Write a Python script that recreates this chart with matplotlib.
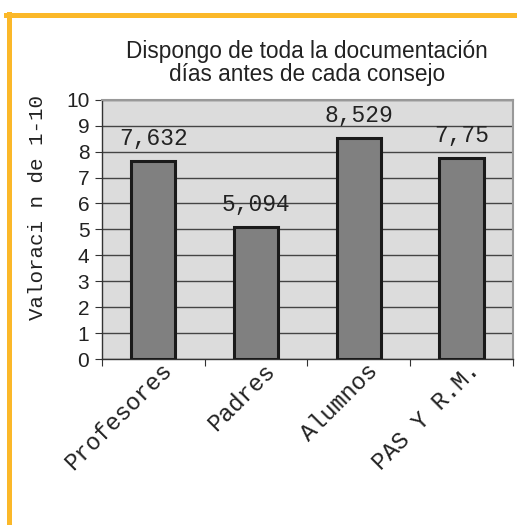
import matplotlib
matplotlib.use("Agg")
import matplotlib.pyplot as plt
import matplotlib.transforms as mtransforms
from matplotlib.lines import Line2D

categorias = ["Profesores", "Padres", "Alumnos", "PAS Y R.M."]
valores = [7.632, 5.094, 8.529, 7.75]
etiquetas = ["7,632", "5,094", "8,529", "7,75"]
titulo = "Dispongo de toda la documentación\ndías antes de cada consejo"
ylabel = "Valoraci n de 1-10"

mono = "Liberation Mono"
sans = "Liberation Sans"

fig = plt.figure(figsize=(5.17, 5.25), dpi=100)
ax = fig.add_axes([0.197, 0.316, 0.795, 0.494])
ax.set_facecolor("#dcdcdc")

x = list(range(len(categorias)))
ax.bar(x, valores, width=0.43, color="#808080", edgecolor="#1a1a1a", linewidth=2.2, zorder=3)
for xi, v, t in zip(x, valores, etiquetas):
	ax.text(xi, v + 0.62, t, ha="center", va="baseline", family=mono, fontsize=16.5,
			color="#222222", zorder=4)

ax.set_xlim(-0.5, 3.5)
ax.set_ylim(0, 10)
ax.set_yticks(range(0, 11))
ax.yaxis.grid(True, color="#444444", linewidth=1, zorder=1)
ax.set_axisbelow(True)
ax.set_yticklabels([str(i) for i in range(0, 11)], family=sans, fontsize=15, color="#222222")

# ticks del eje x entre categorias
ax.set_xticks([-0.5, 0.5, 1.5, 2.5, 3.5])
ax.set_xticklabels([])
ax.set_xticks(x, minor=True)
ax.set_xticklabels(categorias, minor=True, rotation=45, ha="right", rotation_mode="anchor",
				   family=mono, fontsize=17, color="#222222")
ax.tick_params(axis="x", which="minor", length=0, pad=2)
ax.tick_params(axis="x", which="major", length=5, color="#333333")
ax.tick_params(axis="y", length=5, color="#333333", pad=4)
desplaza = mtransforms.ScaledTranslation(7 / 100, 3 / 100, fig.dpi_scale_trans)
for lab in ax.get_xticklabels(minor=True):
	lab.set_transform(lab.get_transform() + desplaza)

for s in ["top", "right"]:
	ax.spines[s].set_color("#999999")
	ax.spines[s].set_linewidth(1.5)
for s in ["left", "bottom"]:
	ax.spines[s].set_color("#333333")
	ax.spines[s].set_linewidth(1)

fig.text(0.594, 0.924, titulo, ha="center", va="top", family=sans, fontsize=16.3,
		 color="#222222", linespacing=1.0)
fig.text(0.072, 0.604, ylabel, rotation=90, ha="center", va="center", family=mono,
		 fontsize=15, color="#222222")

# marco naranja
naranja = "#fbb829"
fig.add_artist(Line2D([0.012, 1.0], [0.9705, 0.9705], color=naranja, linewidth=3.6, transform=fig.transFigure))
fig.add_artist(Line2D([0.0175, 0.0175], [0.0, 0.974], color=naranja, linewidth=3.6, transform=fig.transFigure))

fig.savefig("out.png", dpi=100)
